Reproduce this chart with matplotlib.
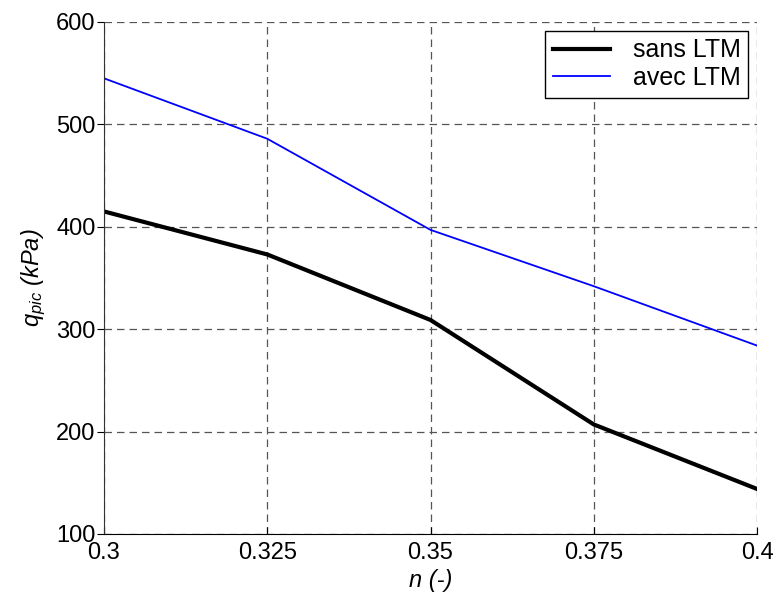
import matplotlib
matplotlib.use("Agg")
import matplotlib.pyplot as plt

n_vals = [0.3, 0.325, 0.35, 0.375, 0.4]
sans_ltm = [415, 373, 309, 207, 144]
avec_ltm = [545, 486, 397, 342, 284]
x_ticks = [0.3, 0.325, 0.35, 0.375, 0.4]
x_ticklabels = ["0.3", "0.325", "0.35", "0.375", "0.4"]
y_ticks = [100, 200, 300, 400, 500, 600]

plt.rcParams['font.family'] = ['Liberation Sans', 'DejaVu Sans']
plt.rcParams['mathtext.fontset'] = 'custom'
plt.rcParams['mathtext.it'] = 'Liberation Sans:italic'
plt.rcParams['mathtext.rm'] = 'Liberation Sans'

fig = plt.figure(figsize=(7.76, 5.94), dpi=100)
ax = fig.add_axes([104/776, 60/594, (757-104)/776, (534-22)/594])

ax.plot(n_vals, sans_ltm, color='black', lw=3, label='sans LTM')
ax.plot(n_vals, avec_ltm, color='#0000ff', lw=1.3, label='avec LTM')

ax.set_xlim(0.3, 0.4)
ax.set_ylim(100, 600)
ax.set_xticks(x_ticks)
ax.set_xticklabels(x_ticklabels)
ax.set_yticks(y_ticks)
ax.grid(True, linestyle=(0, (6, 4)), color='#555555', lw=0.9)
for s in ['top', 'right']:
    ax.spines[s].set_visible(False)
ax.spines['left'].set_color('#333333')
ax.spines['bottom'].set_color('black')
ax.tick_params(axis='y', direction='out', length=5, labelsize=17, pad=1)
ax.tick_params(axis='x', direction='in', length=5, labelsize=17, pad=6)

ax.set_xlabel('n (-)', fontsize=17, style='italic', labelpad=3)
ax.set_ylabel(r'$q_{pic}$ (kPa)', fontsize=17, style='italic', labelpad=6)

leg = ax.legend(loc='upper right', fontsize=18, frameon=True, fancybox=False,
                edgecolor='black', framealpha=1, borderaxespad=0.35,
                handlelength=2.3, borderpad=0.3, labelspacing=0.15,
                handletextpad=0.9)
leg.get_frame().set_linewidth(1.0)

fig.savefig('out.png', dpi=100)
